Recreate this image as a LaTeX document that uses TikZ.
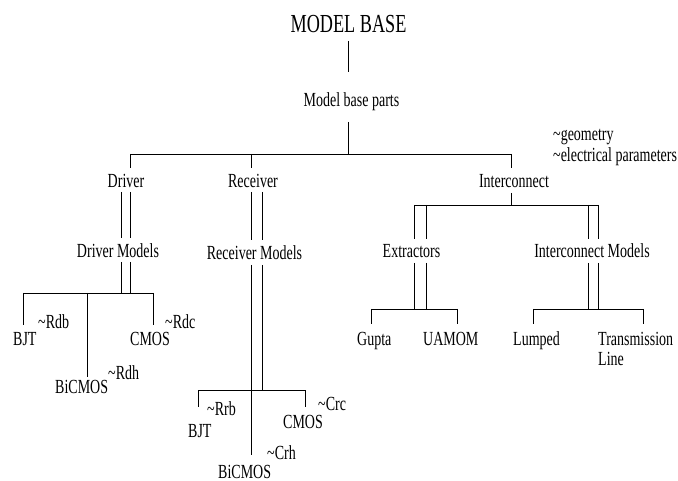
\documentclass[tikz,border=0pt]{standalone}
\usepackage{fontspec}
\setmainfont{Liberation Serif}[FakeStretch=0.7]
\begin{document}
\begin{tikzpicture}[x=1pt,y=-1pt,
  lbl/.style={font=\fontsize{20}{20}\selectfont, inner sep=0pt, anchor=base},
  lbll/.style={lbl, anchor=base west, align=left},
  ttl/.style={font=\fontsize{26}{26}\selectfont, inner sep=0pt, anchor=base},
  ln/.style={line width=0.9pt, black}]
\useasboundingbox (0,0) rectangle (678,481);
% text nodes
\node[ttl] (mb) at (348.5,33) {MODEL BASE};
\node[lbl] (mbp) at (351.5,107) {Model base parts};
\node[lbll] (attr) at (553,162) {\textasciitilde geometry\\[1pt]\textasciitilde electrical parameters};
\node[lbl] (drv) at (126,188) {Driver};
\node[lbl] (rcv) at (253,188) {Receiver};
\node[lbl] (icn) at (514,188) {Interconnect};
\node[lbl] (drvm) at (118,258) {Driver Models};
\node[lbl] (rcvm) at (254.5,260) {Receiver Models};
\node[lbl] (ext) at (411.5,258) {Extractors};
\node[lbl] (icnm) at (592,258) {Interconnect Models};
% driver leaves
\node[lbll] (dbjt) at (13,345) {BJT};
\node[lbll] (drdb) at (38,329) {\textasciitilde Rdb};
\node[lbll] (dcmos) at (130,345) {CMOS};
\node[lbll] (drdc) at (165,329) {\textasciitilde Rdc};
\node[lbll] (dbic) at (55,393) {BiCMOS};
\node[lbll] (drdh) at (108,380) {\textasciitilde Rdh};
% receiver leaves
\node[lbll] (rrrb) at (207,415) {\textasciitilde Rrb};
\node[lbll] (rbjt) at (188,437) {BJT};
\node[lbll] (rcmos) at (283,428) {CMOS};
\node[lbll] (rcrc) at (318,410) {\textasciitilde Crc};
\node[lbll] (rcrh) at (267,459) {\textasciitilde Crh};
\node[lbll] (rbic) at (218,478) {BiCMOS};
% interconnect leaves
\node[lbll] (gup) at (357,345) {Gupta};
\node[lbll] (uam) at (423,345) {UAMOM};
\node[lbll] (lmp) at (513,345) {Lumped};
\node[lbll] (trl) at (598,365) {Transmission\\Line};
% junction coordinates
\coordinate (mbA) at (348,41);  \coordinate (mbB) at (348,72);
\coordinate (mpA) at (348,122); \coordinate (top) at (348,154);
\coordinate (tL) at (130,154); \coordinate (tM) at (251,154); \coordinate (tR) at (511,154);
\coordinate (dA) at (130,168); \coordinate (rA) at (251,168); \coordinate (iA) at (511,168);
% top tree
\draw[ln] (mbA) -- (mbB);
\draw[ln] (mpA) -- (top);
\draw[ln] (tL) -- (tR);
\draw[ln] (tL) -- (dA);
\draw[ln] (tM) -- (rA);
\draw[ln] (tR) -- (iA);
% driver
\coordinate (d1a) at (121,192); \coordinate (d1b) at (121,238);
\coordinate (d2a) at (130,192); \coordinate (d2b) at (130,238);
\coordinate (d3a) at (121,262); \coordinate (d3b) at (121,293);
\coordinate (d4a) at (130,262); \coordinate (d4b) at (130,293);
\coordinate (dhL) at (23,293); \coordinate (dhR) at (153,293); \coordinate (dhM) at (87,293);
\coordinate (dbj) at (23,325); \coordinate (dcm) at (153,325); \coordinate (dbi) at (87,377);
\draw[ln] (d1a) -- (d1b);
\draw[ln] (d2a) -- (d2b);
\draw[ln] (d3a) -- (d3b);
\draw[ln] (d4a) -- (d4b);
\draw[ln] (dhL) -- (dhR);
\draw[ln] (dhL) -- (dbj);
\draw[ln] (dhR) -- (dcm);
\draw[ln] (dhM) -- (dbi);
% receiver
\coordinate (r1a) at (251,192); \coordinate (r1b) at (251,240);
\coordinate (r2a) at (262,192); \coordinate (r2b) at (262,240);
\coordinate (r3a) at (251,265); \coordinate (r3b) at (251,455);
\coordinate (r4a) at (262,265); \coordinate (r4b) at (262,390);
\coordinate (rhL) at (198,390); \coordinate (rhR) at (305,390);
\coordinate (rbj) at (198,407); \coordinate (rcm) at (305,407);
\draw[ln] (r1a) -- (r1b);
\draw[ln] (r2a) -- (r2b);
\draw[ln] (r3a) -- (r3b);
\draw[ln] (r4a) -- (r4b);
\draw[ln] (rhL) -- (rhR);
\draw[ln] (rhL) -- (rbj);
\draw[ln] (rhR) -- (rcm);
% interconnect
\coordinate (i1a) at (511,193); \coordinate (i1b) at (511,205);
\coordinate (ihL) at (414,205); \coordinate (ihR) at (598,205);
\draw[ln] (i1a) -- (i1b);
\draw[ln] (ihL) -- (ihR);
\coordinate (e1a) at (414,205); \coordinate (e1b) at (414,239);
\coordinate (e2a) at (426,205); \coordinate (e2b) at (426,239);
\coordinate (m1a) at (588,205); \coordinate (m1b) at (588,239);
\coordinate (m2a) at (598,205); \coordinate (m2b) at (598,239);
\draw[ln] (e1a) -- (e1b);
\draw[ln] (e2a) -- (e2b);
\draw[ln] (m1a) -- (m1b);
\draw[ln] (m2a) -- (m2b);
% extractors subtree
\coordinate (e3a) at (414,263); \coordinate (e3b) at (414,309);
\coordinate (e4a) at (426,263); \coordinate (e4b) at (426,309);
\coordinate (ehL) at (371,309); \coordinate (ehR) at (457,309);
\coordinate (egp) at (371,324); \coordinate (eum) at (457,324);
\draw[ln] (e3a) -- (e3b);
\draw[ln] (e4a) -- (e4b);
\draw[ln] (ehL) -- (ehR);
\draw[ln] (ehL) -- (egp);
\draw[ln] (ehR) -- (eum);
% interconnect models subtree
\coordinate (m3a) at (588,263); \coordinate (m3b) at (588,309);
\coordinate (m4a) at (598,263); \coordinate (m4b) at (598,309);
\coordinate (mhL) at (533,309); \coordinate (mhR) at (643,309);
\coordinate (mlp) at (533,324); \coordinate (mtl) at (643,324);
\draw[ln] (m3a) -- (m3b);
\draw[ln] (m4a) -- (m4b);
\draw[ln] (mhL) -- (mhR);
\draw[ln] (mhL) -- (mlp);
\draw[ln] (mhR) -- (mtl);
\end{tikzpicture}
\end{document}
